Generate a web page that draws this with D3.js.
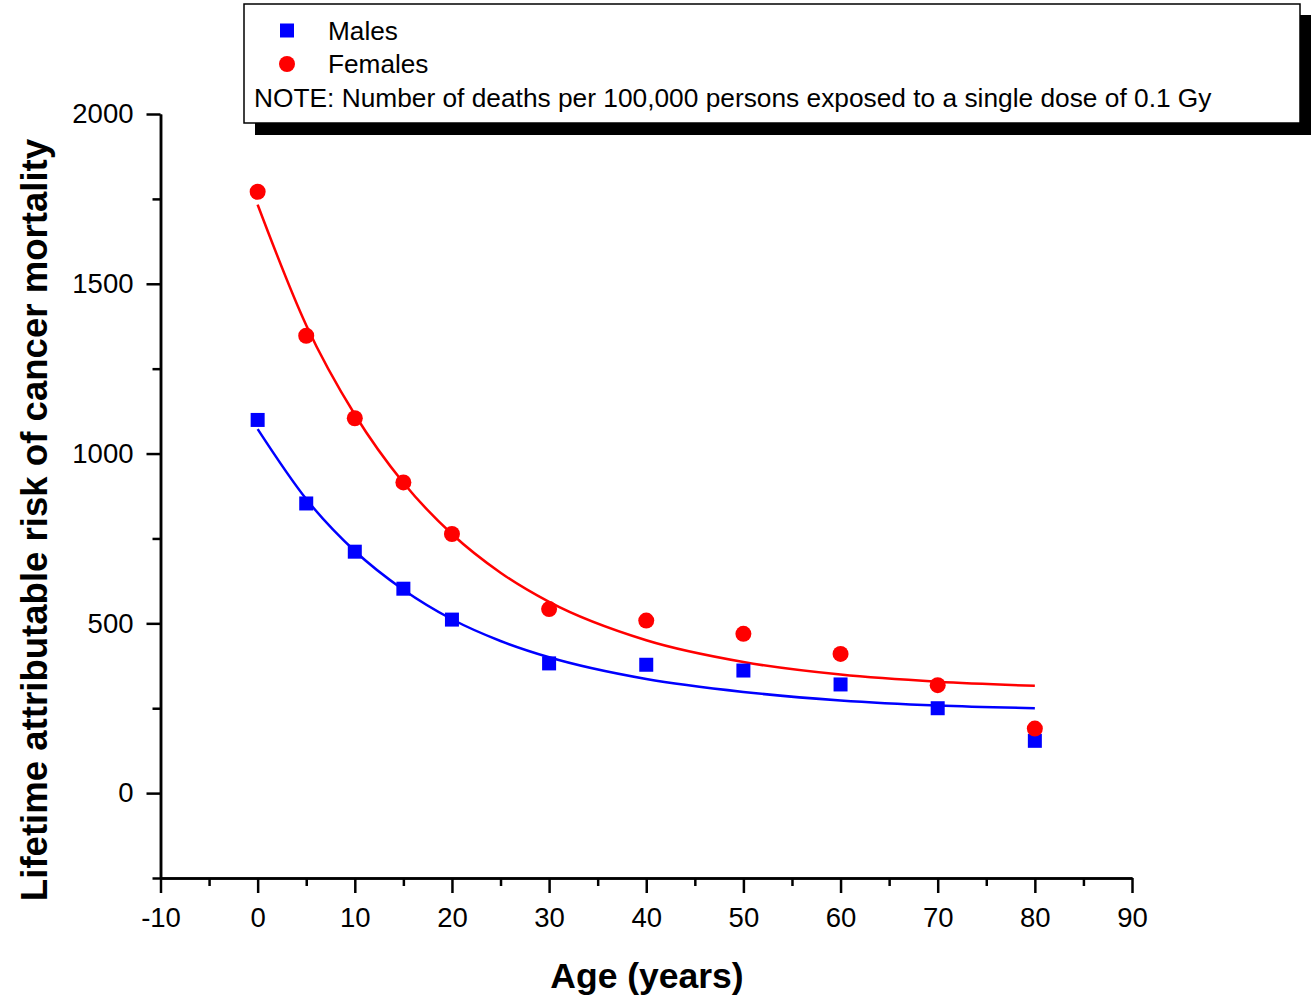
<!DOCTYPE html>
<html>
<head>
<meta charset="utf-8">
<script src="https://cdn.jsdelivr.net/npm/d3@7"></script>
<style>
  html, body { margin: 0; padding: 0; background: #FFFFFF; }
  svg { display: block; }
</style>
</head>
<body>
<div id="chart"></div>
<script>
// ---- data ----
const ages = [0, 5, 10, 15, 20, 30, 40, 50, 60, 70, 80]
const malesRisk = [1099, 853, 711, 602, 511, 382, 378, 361, 320, 250, 154]
const femalesRisk = [1771, 1347, 1104, 915, 763, 542, 508, 469, 410, 318, 190]

// fitted decay curves
const fitAges = [0, 5, 10, 15, 20, 25, 30, 40, 50, 60, 70, 80]
const malesFit = [1072, 866, 713, 599, 512, 448, 400, 336, 298, 273, 258, 250]
const femalesFit = [1733, 1378, 1115, 914, 763, 649, 563, 450, 386, 349, 328, 316]

const xMajorTicks = [-10, 0, 10, 20, 30, 40, 50, 60, 70, 80, 90]
const xMinorTicks = [-5, 5, 15, 25, 35, 45, 55, 65, 75, 85]
const yMajorTicks = [0, 500, 1000, 1500, 2000]
const yMinorTicks = [-250, 250, 750, 1250, 1750]

const legendLabels = ['Males', 'Females']
const noteText = 'NOTE: Number of deaths per 100,000 persons exposed to a single dose of 0.1 Gy'

// ---- layout ----
const width = 1311
const height = 997
const FONT = '"Liberation Sans", Arial, sans-serif'
const BLUE = '#0000FF'
const RED = '#FF0000'

const xScale = d3.scaleLinear().domain([-10, 90]).range([160.5, 1132])
const yScale = d3.scaleLinear().domain([-250, 2000]).range([878, 114])

const svg = d3.select('#chart')
  .append('svg')
  .attr('width', width)
  .attr('height', height)
  .attr('viewBox', `0 0 ${width} ${height}`)

svg.append('rect')
  .attr('width', width).attr('height', height)
  .attr('fill', '#FFFFFF')

function styleAxis(g) {
  g.select('.domain').attr('stroke', '#000').attr('stroke-width', 2.5)
  g.selectAll('.tick line').attr('stroke', '#000').attr('stroke-width', 2.5)
  g.selectAll('.tick text')
    .attr('fill', '#000').attr('font-size', '27.5px')
    .attr('font-family', FONT)
}

// ---- axes ----
const y0 = yScale.range()[0]
const x0 = xScale.range()[0]

svg.append('g')
  .attr('transform', `translate(0,${y0})`)
  .call(d3.axisBottom(xScale).tickValues(xMinorTicks).tickSize(8).tickSizeOuter(0).tickFormat(''))
  .call(styleAxis)

svg.append('g')
  .attr('transform', `translate(0,${y0})`)
  .call(d3.axisBottom(xScale).tickValues(xMajorTicks).tickSize(15).tickSizeOuter(0).tickPadding(14).tickFormat(d3.format('d')))
  .call(styleAxis)
  .call(g => g.selectAll('.tick text').text(d => d < 0 ? '-' + Math.abs(d) : d))

svg.append('g')
  .attr('transform', `translate(${x0},0)`)
  .call(d3.axisLeft(yScale).tickValues(yMinorTicks).tickSize(8).tickSizeOuter(0).tickFormat(''))
  .call(styleAxis)

svg.append('g')
  .attr('transform', `translate(${x0},0)`)
  .call(d3.axisLeft(yScale).tickValues(yMajorTicks).tickSize(14).tickSizeOuter(0).tickPadding(13).tickFormat(d3.format('d')))
  .call(styleAxis)

// axis titles
svg.append('text')
  .attr('x', 647).attr('y', 988)
  .attr('text-anchor', 'middle')
  .attr('font-family', FONT).attr('font-weight', 'bold').attr('font-size', '35.5px')
  .attr('fill', '#000')
  .text('Age (years)')

svg.append('text')
  .attr('transform', `translate(47,520) rotate(-90)`)
  .attr('text-anchor', 'middle')
  .attr('font-family', FONT).attr('font-weight', 'bold').attr('font-size', '36.6px')
  .attr('fill', '#000')
  .text('Lifetime attributable risk of cancer mortality')

// ---- fitted curves ----
const line = d3.line()
  .x((d, i) => xScale(fitAges[i]))
  .y(d => yScale(d))
  .curve(d3.curveMonotoneX)

svg.append('path')
  .datum(femalesFit)
  .attr('d', line)
  .attr('fill', 'none').attr('stroke', RED).attr('stroke-width', 2.5)

svg.append('path')
  .datum(malesFit)
  .attr('d', line)
  .attr('fill', 'none').attr('stroke', BLUE).attr('stroke-width', 2.5)

// ---- markers ----
const sq = 14
svg.append('g').attr('class', 'males')
  .selectAll('rect')
  .data(malesRisk)
  .join('rect')
  .attr('x', (d, i) => xScale(ages[i]) - sq / 2)
  .attr('y', d => yScale(d) - sq / 2)
  .attr('width', sq).attr('height', sq)
  .attr('fill', BLUE)

svg.append('g').attr('class', 'females')
  .selectAll('circle')
  .data(femalesRisk)
  .join('circle')
  .attr('cx', (d, i) => xScale(ages[i]))
  .attr('cy', d => yScale(d))
  .attr('r', 8)
  .attr('fill', RED)

// ---- legend ----
const legend = svg.append('g').attr('class', 'legend')

legend.append('rect')
  .attr('x', 255).attr('y', 15)
  .attr('width', 1056).attr('height', 120)
  .attr('fill', '#000')

legend.append('rect')
  .attr('x', 244).attr('y', 4)
  .attr('width', 1056).attr('height', 119)
  .attr('fill', '#FFFFFF')
  .attr('stroke', '#000').attr('stroke-width', 1.5)

legend.append('rect')
  .attr('x', 287 - sq / 2).attr('y', 30.5 - sq / 2)
  .attr('width', sq).attr('height', sq)
  .attr('fill', BLUE)

legend.append('circle')
  .attr('cx', 287).attr('cy', 64)
  .attr('r', 8)
  .attr('fill', RED)

legend.selectAll('text.item')
  .data(legendLabels)
  .join('text')
  .attr('class', 'item')
  .attr('x', 328)
  .attr('y', (d, i) => 39.5 + i * 33)
  .attr('font-family', FONT).attr('font-size', '26.2px')
  .attr('fill', '#000')
  .text(d => d)

legend.append('text')
  .attr('x', 254).attr('y', 106.5)
  .attr('font-family', FONT).attr('font-size', '26.3px')
  .attr('fill', '#000')
  .text(noteText)
</script>
</body>
</html>
